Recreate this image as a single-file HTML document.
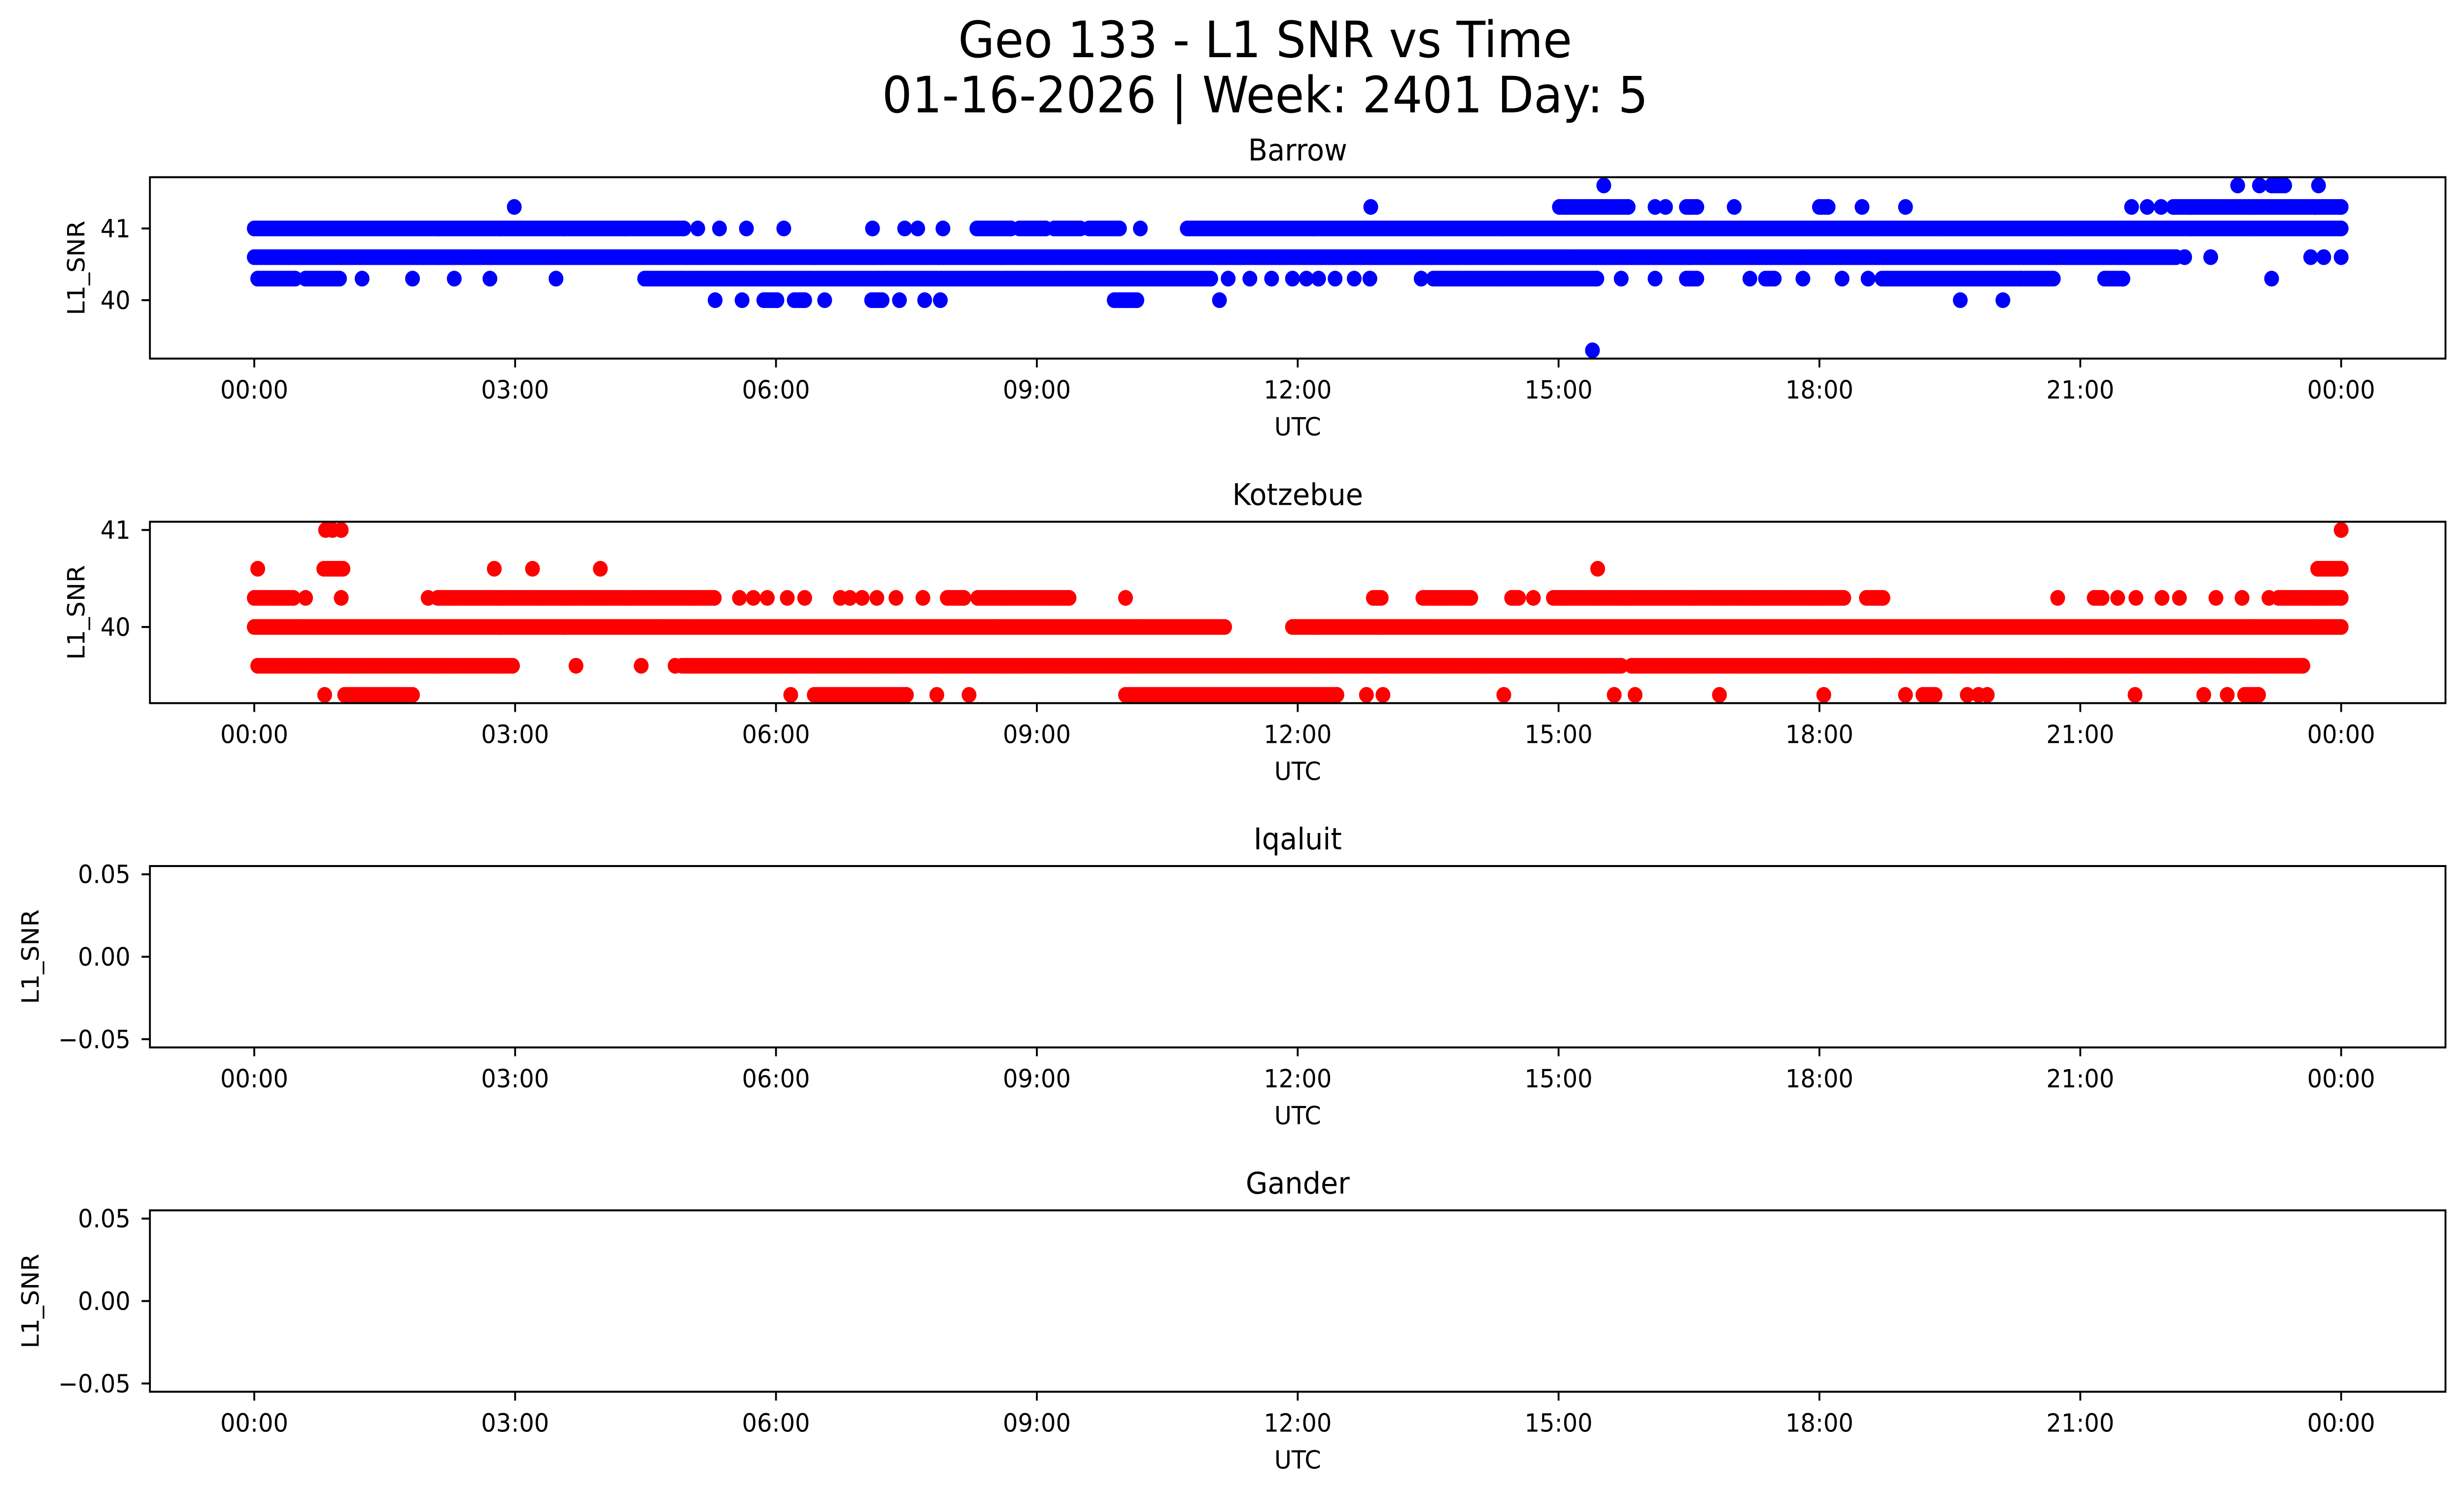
<!DOCTYPE html>
<html><head><meta charset="utf-8">
<style>
html,body{margin:0;padding:0;background:#fff;overflow:hidden;width:100vw;height:100vh;}
svg{display:block;width:100vw;height:100vh;}
text{font-family:"DejaVu Sans","Liberation Sans",sans-serif;fill:#000;}
</style></head>
<body>
<svg id="fig" viewBox="0 0 5325 3033" preserveAspectRatio="none" xmlns="http://www.w3.org/2000/svg">
<rect width="5325" height="3033" fill="#fff"/>
<text x="2734" y="116" font-size="102" text-anchor="middle">Geo 133 - L1 SNR vs Time</text>
<text x="2734" y="228" font-size="102" text-anchor="middle">01-16-2026 | Week: 2401 Day: 5</text>
<g id="plots"></g>
</svg>
<script>
// x tick labels (hours)
const xTickHours = [0, 3, 6, 9, 12, 15, 18, 21, 24];
const xTickLabels = ["00:00","03:00","06:00","09:00","12:00","15:00","18:00","21:00","00:00"];
// Barrow data: SNR levels and time runs [startHour, endHour]
const barrowLevels = [41.6, 41.3, 41, 40.6, 40.3, 40, 39.3];
const barrowRuns = [
  [[15.52,15.52],[22.81,22.81],[23.06,23.06],[23.2,23.35],[23.74,23.74]],
  [[2.99,2.99],[12.84,12.84],[15.01,15.8],[16.11,16.11],[16.23,16.23],[16.47,16.59],[17.02,17.02],[18.0,18.1],[18.49,18.49],[18.99,18.99],[21.59,21.59],[21.77,21.77],[21.93,21.93],[22.07,24.0]],
  [[0,4.94],[5.1,5.1],[5.35,5.35],[5.66,5.66],[6.09,6.09],[7.11,7.11],[7.48,7.48],[7.63,7.63],[7.92,7.92],[8.31,8.7],[8.8,9.1],[9.2,9.5],[9.6,9.95],[10.19,10.19],[10.73,24.0]],
  [[0,22.1],[22.2,22.2],[22.5,22.5],[23.65,23.65],[23.8,23.8],[24.0,24.0]],
  [[0.04,0.47],[0.59,0.98],[1.24,1.24],[1.82,1.82],[2.3,2.3],[2.71,2.71],[3.47,3.47],[4.49,11.0],[11.2,11.2],[11.45,11.45],[11.7,11.7],[11.94,11.94],[12.1,12.1],[12.24,12.24],[12.43,12.43],[12.65,12.65],[12.83,12.83],[13.42,13.42],[13.56,15.44],[15.72,15.72],[16.11,16.11],[16.47,16.59],[17.2,17.2],[17.38,17.48],[17.81,17.81],[18.26,18.26],[18.56,18.56],[18.72,20.33],[20.37,20.69],[21.28,21.49],[23.2,23.2]],
  [[5.3,5.3],[5.61,5.61],[5.86,6.01],[6.21,6.33],[6.56,6.56],[7.1,7.22],[7.42,7.42],[7.71,7.71],[7.89,7.89],[9.89,10.15],[11.1,11.1],[19.62,19.62],[20.11,20.11]],
  [[15.39,15.39]]
];
// Kotzebue data
const kotzLevels = [41, 40.6, 40.3, 40, 39.6, 39.3];
const kotzRuns = [
  [[0.82,0.82],[0.9,0.9],[1.0,1.0],[24.0,24.0]],
  [[0.04,0.04],[0.8,1.02],[2.76,2.76],[3.2,3.2],[3.98,3.98],[15.45,15.45],[23.73,24.0]],
  [[0,0.45],[0.59,0.59],[1.0,1.0],[2.0,2.0],[2.11,5.29],[5.58,5.58],[5.74,5.74],[5.9,5.9],[6.13,6.13],[6.33,6.33],[6.74,6.74],[6.85,6.85],[6.99,6.99],[7.16,7.16],[7.38,7.38],[7.69,7.69],[7.97,8.16],[8.32,9.37],[10.02,10.02],[12.87,12.96],[13.44,13.99],[14.46,14.54],[14.71,14.71],[14.94,18.28],[18.54,18.73],[20.74,20.74],[21.16,21.25],[21.43,21.43],[21.64,21.64],[21.94,21.94],[22.14,22.14],[22.56,22.56],[22.86,22.86],[23.17,23.17],[23.28,24.0]],
  [[0,11.16],[11.94,24.0]],
  [[0.04,0.9],[0.94,2.97],[3.7,3.7],[4.45,4.45],[4.84,4.84],[4.92,15.72],[15.84,23.56]],
  [[0.81,0.81],[1.04,1.82],[6.17,6.17],[6.44,7.5],[7.85,7.85],[8.22,8.22],[10.02,12.45],[12.79,12.79],[12.98,12.98],[14.37,14.37],[15.64,15.64],[15.88,15.88],[16.85,16.85],[18.05,18.05],[18.99,18.99],[19.19,19.33],[19.7,19.7],[19.83,19.83],[19.93,19.93],[21.63,21.63],[22.42,22.42],[22.69,22.69],[22.89,23.05]]
];
const stationNames = ["Barrow","Kotzebue","Iqaluit","Gander"];
const yTicksBarrow = [40, 41];
const yTicksKotz = [40, 41];
const yTicksEmpty = [-0.05, 0, 0.05];
const yTickLabelsEmpty = ["\u22120.05","0.00","0.05"];

const NS = "http://www.w3.org/2000/svg";
const AX_L = 324, AX_R = 5285, AX_H = 368;
const AX_TOPS = [359.5, 1058.5, 1757, 2455.5];
const X0 = -1.2, X1 = 25.2;
function xScale(h){ return AX_L + (h - X0) / (X1 - X0) * (AX_R - AX_L); }
function yScaleFor(top, lo, hi){ return v => top + (hi - v) / (hi - lo) * AX_H; }
function mk(tag, attrs, parent){
  const e = document.createElementNS(NS, tag);
  for (const k in attrs) e.setAttribute(k, attrs[k]);
  parent.appendChild(e); return e;
}
const root = document.getElementById('plots');

function drawAxes(i, lo, hi, yTicks, yLabels, ylabX, levels, runs, color){
  const top = AX_TOPS[i], bottom = top + AX_H;
  const ys = yScaleFor(top, lo, hi);
  const g = mk('g', {}, root);
  
  
  const cid = 'clip' + i;
  const cp = mk('clipPath', {id: cid}, g);
  mk('rect', {x: AX_L, y: top, width: AX_R - AX_L, height: AX_H}, cp);
  if (levels) {
    const pts = mk('g', {'clip-path': 'url(#' + cid + ')', fill: color}, g);
    
    
    levels.forEach((lv, li) => {
      runs[li].forEach(r => {
        const step = 0.03;
        for (let h = r[0]; h <= r[1] + 1e-9; h += step) {
          const c = mk('circle', {cx: xScale(h).toFixed(1), cy: ys(lv).toFixed(1), r: 16}, pts);
          
          
        }
        if ((r[1] - r[0]) % step > 0.005) {
          const c = mk('circle', {cx: xScale(r[1]).toFixed(1), cy: ys(lv).toFixed(1), r: 16}, pts);
          
          
        }
      });
    });
  }
  const frame = mk('rect', {x: AX_L, y: top, width: AX_R - AX_L, height: AX_H, fill: 'none', stroke: '#000', 'stroke-width': 4}, g);
  
  
  xTickHours.forEach((h, k) => {
    const x = xScale(h);
    mk('line', {x1: x, x2: x, y1: bottom, y2: bottom + 18, stroke: '#000', 'stroke-width': 4}, g);
    const t = mk('text', {x: x, y: bottom + 81, 'font-size': 51, 'text-anchor': 'middle'}, g);
    
    
    t.textContent = xTickLabels[k];
  });
  const xl = mk('text', {x: (AX_L + AX_R) / 2, y: bottom + 156, 'font-size': 51, 'text-anchor': 'middle'}, g);
  
  
  xl.textContent = 'UTC';
  yTicks.forEach((v, k) => {
    const y = ys(v);
    mk('line', {x1: AX_L - 18, x2: AX_L, y1: y, y2: y, stroke: '#000', 'stroke-width': 4}, g);
    const t = mk('text', {x: 282, y: y + 18, 'font-size': 51, 'text-anchor': 'end'}, g);
    
    
    t.textContent = yLabels[k];
  });
  const cy = top + AX_H / 2;
  const yl = mk('text', {x: ylabX, y: cy, 'font-size': 51, 'text-anchor': 'middle', transform: 'rotate(-90 ' + ylabX + ' ' + cy + ')', 'dominant-baseline': 'central'}, g);
  
  
  yl.textContent = 'L1_SNR';
  const tt = mk('text', {x: (AX_L + AX_R) / 2, y: top - 34, 'font-size': 61, 'text-anchor': 'middle'}, g);
  
  
  tt.textContent = stationNames[i];
}
drawAxes(0, 39.185, 41.715, yTicksBarrow, ["40","41"], 165, barrowLevels, barrowRuns, '#0000ff');
drawAxes(1, 39.215, 41.085, yTicksKotz, ["40","41"], 165, kotzLevels, kotzRuns, '#ff0000');
drawAxes(2, -0.055, 0.055, yTicksEmpty, yTickLabelsEmpty, 66, null, null, null);
drawAxes(3, -0.055, 0.055, yTicksEmpty, yTickLabelsEmpty, 66, null, null, null);
</script>
</body></html>
